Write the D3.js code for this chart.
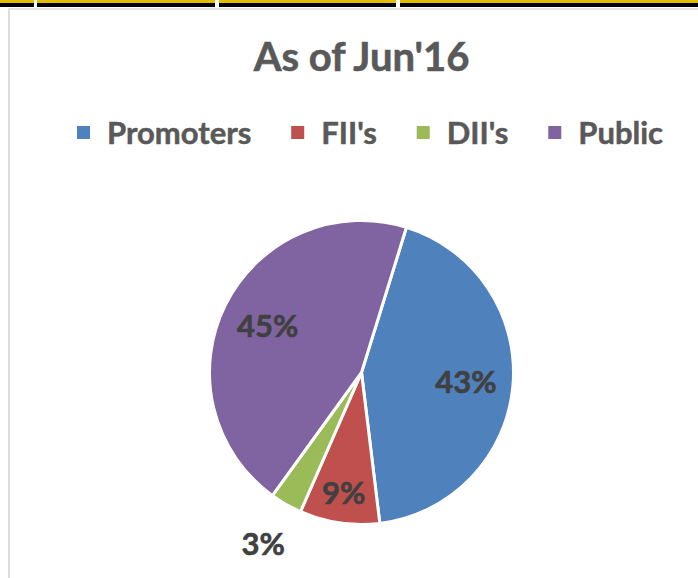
<!DOCTYPE html>
<html>
<head>
<meta charset="utf-8">
<script src="https://cdn.jsdelivr.net/npm/d3@7"></script>
<style>
  html, body { margin: 0; padding: 0; background: #fff; }
  svg { display: block; }
  text { font-family: Lato, "Open Sans", sans-serif; font-weight: 700; }
</style>
</head>
<body>
<div id="chart"></div>
<script>
var categories = ['Promoters', "FII's", "DII's", 'Public'];
var shares = [43.3, 8.5, 3.4, 44.8];
var colors = ['#4F81BD', '#C0504D', '#9BBB59', '#8064A2'];
var title = "As of Jun'16";

var cfg = {
    w: 698,
    h: 578,
    cx: 361.5,
    cy: 372.5,
    r: 152,
    startAngle: 17.2 * Math.PI / 180,
    legendLeft: 77,
    legendRight: 663
};

var svg = d3.select('#chart').append('svg')
    .attr('width', cfg.w)
    .attr('height', cfg.h);

// top yellow/black strip
var strip = [[0, 34], [37, 215], [219, 396], [400, 698]];
strip.forEach(function(s) {
    svg.append('rect').attr('x', s[0]).attr('y', 0).attr('width', s[1] - s[0]).attr('height', 3).attr('fill', '#E3BD00');
    svg.append('rect').attr('x', s[0]).attr('y', 3).attr('width', s[1] - s[0]).attr('height', 4).attr('fill', '#000');
});

// chart area border (left + top)
svg.append('rect').attr('x', 8).attr('y', 8).attr('width', 2).attr('height', cfg.h - 8).attr('fill', '#dcdcdc');
svg.append('rect').attr('x', 8).attr('y', 8).attr('width', cfg.w - 8).attr('height', 2).attr('fill', '#e4e4e4');

// title
svg.append('text')
    .attr('x', cfg.cx)
    .attr('y', 70.7)
    .attr('text-anchor', 'middle')
    .attr('fill', '#595959')
    .attr('stroke', '#595959')
    .attr('stroke-width', 0.6)
    .style('font-size', '40px')
    .text(title);

// legend
var items = svg.append('g').classed('legend', true)
    .selectAll('g')
    .data(categories)
    .enter()
    .append('g');
items.append('rect')
    .attr('width', 13)
    .attr('height', 13)
    .attr('y', 126)
    .attr('fill', function(d, i) { return colors[i]; });
items.append('text')
    .attr('y', 144.3)
    .attr('fill', '#595959')
    .attr('stroke', '#595959')
    .attr('stroke-width', 0.5)
    .style('font-size', '31px')
    .text(function(d) { return d; });

var widths = [];
items.each(function() {
    widths.push(d3.select(this).select('text').node().getComputedTextLength());
});
var used = d3.sum(widths) + 30 * widths.length;
var gap = (cfg.legendRight - cfg.legendLeft - used) / (widths.length - 1);
var lx = cfg.legendLeft;
items.each(function(d, i) {
    var it = d3.select(this);
    it.select('rect').attr('x', lx);
    it.select('text').attr('x', lx + 30);
    lx += 30 + widths[i] + gap;
});

// pie
var pie = d3.pie()
    .sort(null)
    .startAngle(cfg.startAngle)
    .endAngle(cfg.startAngle + 2 * Math.PI)
    .value(function(d) { return d; });
var arcs = pie(shares);

var arc = d3.arc().innerRadius(0).outerRadius(cfg.r);

var g = svg.append('g')
    .attr('transform', 'translate(' + cfg.cx + ',' + cfg.cy + ')');

g.selectAll('.slice')
    .data(arcs)
    .enter()
    .append('path')
    .classed('slice', true)
    .attr('d', arc)
    .attr('fill', function(d, i) { return colors[i]; })
    .attr('stroke', '#fff')
    .attr('stroke-width', 3)
    .attr('stroke-linejoin', 'round');

// best-fit style labels: small slices pushed out
function labelRadius(v) {
    if (v < 5) return cfg.r * 1.3;
    if (v < 15) return cfg.r * 0.8;
    return cfg.r * 0.69;
}

g.selectAll('.label_txt')
    .data(arcs)
    .enter()
    .append('text')
    .classed('label_txt', true)
    .attr('transform', function(d) {
        var lr = labelRadius(d.value);
        var c = d3.arc().innerRadius(lr).outerRadius(lr).centroid(d);
        return 'translate(' + c[0] + ',' + c[1] + ')';
    })
    .attr('text-anchor', 'middle')
    .attr('dy', '0.36em')
    .attr('fill', '#404040')
    .attr('stroke', '#404040')
    .attr('stroke-width', 0.6)
    .style('font-size', '31px')
    .text(function(d) { return Math.round(d.value) + '%'; });
</script>
</body>
</html>
